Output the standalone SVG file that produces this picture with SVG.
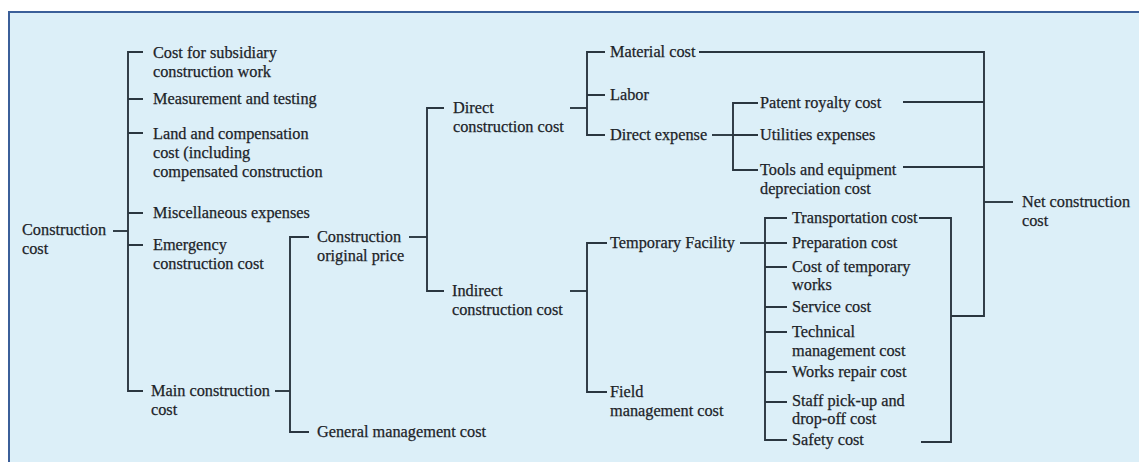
<svg xmlns="http://www.w3.org/2000/svg" width="1139" height="462" viewBox="0 0 1139 462">
  <style>
    text { font-family: "Liberation Serif", "Times New Roman", serif; font-size: 16.3px; fill: #1c2328; stroke: #1c2328; stroke-width: 0.25; }
    .ln { fill: none; stroke: #2a3640; stroke-width: 1.9; }
  </style>
  <!-- page background and frame -->
  <rect x="0" y="0" width="1139" height="462" fill="#ffffff"/>
  <rect x="8" y="11" width="1131" height="451" fill="#dceff8"/>
  <path d="M8 12 H1139 M9 11 V462" stroke="#3b5f99" stroke-width="2" fill="none"/>

  <!-- connectors -->
  <g id="connectors" class="ln">
    <!-- Construction cost bracket -->
    <path d="M113 231 H128"/>
    <path d="M143 52 H128 V391 H143"/>
    <path d="M128 99 H143 M128 133 H143 M128 213 H143 M128 245 H143"/>
    <!-- Main construction cost bracket -->
    <path d="M275 391 H290"/>
    <path d="M309 237 H290 V432 H309"/>
    <!-- Construction original price bracket -->
    <path d="M409 237 H427"/>
    <path d="M444 108 H427 V291 H444"/>
    <!-- Direct construction cost bracket -->
    <path d="M570 108 H587"/>
    <path d="M605 52 H587 V135 H605 M587 95 H605"/>
    <!-- Direct expense bracket -->
    <path d="M712 135 H733"/>
    <path d="M758 103 H733 V170 H758 M733 135 H758"/>
    <!-- Indirect construction cost bracket -->
    <path d="M570 291 H587"/>
    <path d="M607 243 H587 V392 H607"/>
    <!-- Temporary Facility bracket -->
    <path d="M740 243 H765"/>
    <path d="M787 218 H765 V440 H787"/>
    <path d="M765 243 H787 M765 267 H787 M765 307 H787 M765 332 H787 M765 372 H787 M765 402 H787"/>
    <!-- Net construction cost bracket -->
    <path d="M699 52 H984 V316 H951"/>
    <path d="M903 102 H984 M903 167 H984"/>
    <path d="M984 202 H1013"/>
    <path d="M919 218 H951 V442 H921"/>
  </g>

  <!-- nodes -->
  <g id="construction-cost"><text x="22" y="235">Construction<tspan x="22" dy="19">cost</tspan></text></g>
  <g id="subsidiary-work"><text x="153" y="58">Cost for subsidiary<tspan x="153" dy="19">construction work</tspan></text></g>
  <g id="measurement-testing"><text x="153" y="104">Measurement and testing</text></g>
  <g id="land-compensation"><text x="153" y="139">Land and compensation<tspan x="153" dy="19">cost (including</tspan><tspan x="153" dy="19">compensated construction</tspan></text></g>
  <g id="miscellaneous"><text x="153" y="218">Miscellaneous expenses</text></g>
  <g id="emergency"><text x="153" y="250">Emergency<tspan x="153" dy="19">construction cost</tspan></text></g>
  <g id="main-construction"><text x="151" y="396">Main construction<tspan x="151" dy="19">cost</tspan></text></g>
  <g id="original-price"><text x="317" y="242">Construction<tspan x="317" dy="19">original price</tspan></text></g>
  <g id="general-management"><text x="317" y="437">General management  cost</text></g>
  <g id="direct-construction"><text x="453" y="113">Direct<tspan x="453" dy="19">construction cost</tspan></text></g>
  <g id="indirect-construction"><text x="452" y="296">Indirect<tspan x="452" dy="19">construction cost</tspan></text></g>
  <g id="material"><text x="610" y="57">Material cost</text></g>
  <g id="labor"><text x="610" y="100">Labor</text></g>
  <g id="direct-expense"><text x="610" y="140">Direct expense</text></g>
  <g id="patent-royalty"><text x="760" y="108">Patent royalty cost</text></g>
  <g id="utilities"><text x="760" y="140">Utilities expenses</text></g>
  <g id="tools-depreciation"><text x="760" y="175">Tools and equipment<tspan x="760" dy="19">depreciation cost</tspan></text></g>
  <g id="temporary-facility"><text x="610" y="248">Temporary Facility</text></g>
  <g id="field-management"><text x="610" y="397">Field<tspan x="610" dy="19">management  cost</tspan></text></g>
  <g id="transportation"><text x="792" y="223">Transportation cost</text></g>
  <g id="preparation"><text x="792" y="248">Preparation cost</text></g>
  <g id="temporary-works"><text x="792" y="272">Cost of temporary<tspan x="792" dy="18">works</tspan></text></g>
  <g id="service"><text x="792" y="312">Service cost</text></g>
  <g id="technical-management"><text x="792" y="337">Technical<tspan x="792" dy="19">management  cost</tspan></text></g>
  <g id="works-repair"><text x="792" y="377">Works repair cost</text></g>
  <g id="staff-pickup"><text x="792" y="406">Staff pick-up and<tspan x="792" dy="18">drop-off cost</tspan></text></g>
  <g id="safety"><text x="792" y="445">Safety cost</text></g>
  <g id="net-construction"><text x="1022" y="207">Net construction<tspan x="1022" dy="19">cost</tspan></text></g>
</svg>
